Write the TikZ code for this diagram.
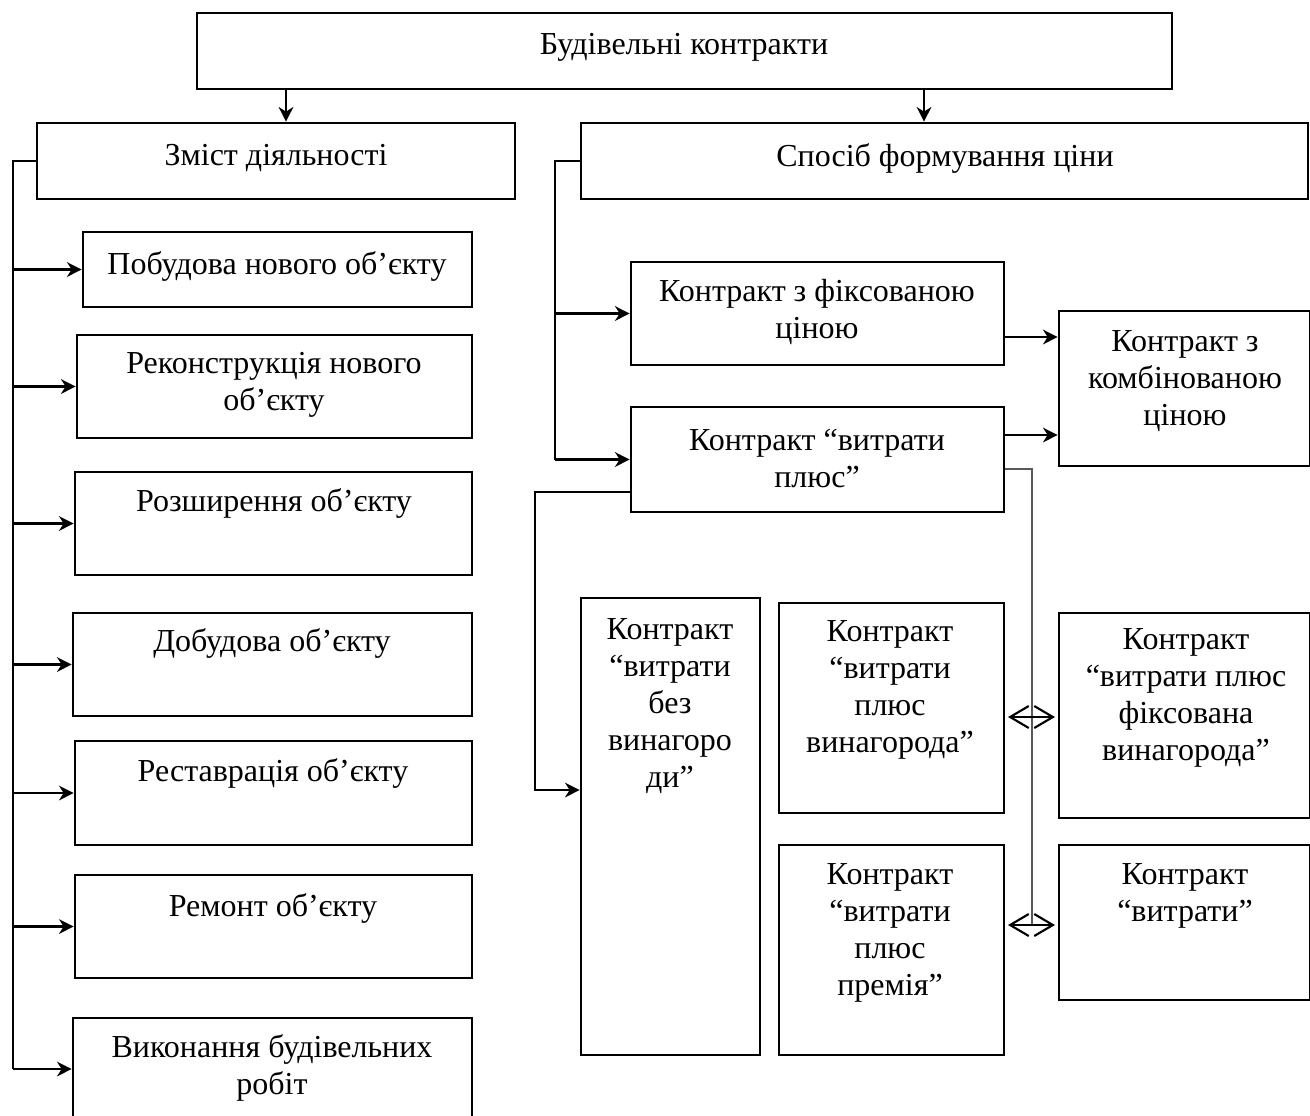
\documentclass[tikz,border=0pt]{standalone}
\usepackage{fontspec}
\setmainfont{Liberation Serif}
\usetikzlibrary{arrows.meta,fit}
\begin{document}
\begin{tikzpicture}[x=0.75pt,y=-0.75pt,
  box/.style={draw, line width=2pt, inner sep=0pt, fit={#1}},
  txt/.style={align=center, inner sep=0pt, font=\fontsize{24}{27.75}\selectfont},
  ln/.style={line width=1.6pt},
  arr/.style={line width=1.6pt, -{Stealth[length=11pt,width=11pt,inset=3.5pt]}},
  thinln/.style={line width=0.9pt, draw=black!65},
  dbl/.style={line width=1.6pt, {Straight Barb[length=14pt,width=16.5pt]}-{Straight Barb[length=14pt,width=16.5pt]}, shorten <=2pt, shorten >=2pt}
]
\useasboundingbox (0,0) rectangle (1310,1115);

% header
\node[box={(197,13)(1172,89)}] (top) {};
\node[txt] (topt) at (684,47) {Будівельні контракти};

% two classification branches
\node[box={(37,123)(515,199)}] (zm) {};
\node[txt] (zmt) at (276,158) {Зміст діяльності};
\node[box={(581,123)(1308,199)}] (sp) {};
\node[txt] (spt) at (945,158) {Спосіб формування ціни};

\draw[arr] (286,0 |- top.south) -- (286,0 |- zm.north);
\draw[arr] (924,0 |- top.south) -- (924,0 |- sp.north);

% left column: kinds of activity
\node[box={(83,232)(472,307)}] (b1) {};
\node[txt] (b1t) at (277,266) {Побудова нового об’єкту};
\node[box={(77,335)(472,438)}] (b2) {};
\node[txt] (b2t) at (274,385) {Реконструкція нового\\об’єкту};
\node[box={(75,472)(472,575)}] (b3) {};
\node[txt] (b3t) at (274,503) {Розширення об’єкту};
\node[box={(73,613)(472,716)}] (b4) {};
\node[txt] (b4t) at (272,643) {Добудова об’єкту};
\node[box={(75,741)(472,845)}] (b5) {};
\node[txt] (b5t) at (273,773) {Реставрація об’єкту};
\node[box={(75,875)(472,978)}] (b6) {};
\node[txt] (b6t) at (273,908) {Ремонт об’єкту};
\node[box={(73,1018)(472,1120)}] (b7) {};
\node[txt] (b7t) at (272,1068) {Виконання будівельних\\робіт};

\coordinate (lt) at (13,0);
\draw[ln] (zm.west) -| (lt |- b7.west);
\foreach \b in {b1,b2,b3,b4,b5,b6,b7}
  \draw[arr] (lt |- \b.west) -- (\b.west);

% right column: price formation
\node[box={(631,262)(1004,365)}] (c1) {};
\node[txt] (c1t) at (817,312) {Контракт з фіксованою\\ціною};
\node[box={(631,407)(1004,512)}] (c2) {};
\node[txt] (c2t) at (817,458) {Контракт “витрати\\плюс”};
\node[box={(1059,311)(1310,466)}] (cb) {};
\node[txt] (cbt) at (1185,381) {Контракт з\\комбінованою\\ціною};

\coordinate (rt) at (555,0);
\draw[ln] (sp.west) -| (rt |- c2.west);
\draw[arr] (rt |- c1.west) -- (c1.west);
\draw[arr] (rt |- c2.west) -- (c2.west);
\draw[arr] (c1.east |- 0,337) -- (cb.west |- 0,337);
\draw[arr] (c2.east |- 0,435) -- (cb.west |- 0,435);

% cost-plus variants
\node[box={(581,598)(760,1055)}] (d1) {};
\node[txt] (d1t) at (670,706) {Контракт\\“витрати\\без\\винагоро\\ди”};
\node[box={(779,603)(1004,813)}] (d2) {};
\node[txt] (d2t) at (890,690) {Контракт\\“витрати\\плюс\\винагорода”};
\node[box={(779,845)(1004,1055)}] (d3) {};
\node[txt] (d3t) at (890,933) {Контракт\\“витрати\\плюс\\премія”};
\node[box={(1059,613)(1310,818)}] (d4) {};
\node[txt] (d4t) at (1186,698) {Контракт\\“витрати плюс\\фіксована\\винагорода”};
\node[box={(1059,845)(1310,1000)}] (d5) {};
\node[txt] (d5t) at (1185,896) {Контракт\\“витрати”};

\draw[arr] (c2.west |- 0,492) -- (535,492) |- (d1.west |- 0,790);
\draw[thinln] (c2.east |- 0,469) -| (1032,925);
\draw[dbl] (d2.east |- 0,717) -- (d4.west |- 0,717);
\draw[dbl] (d3.east |- 0,925) -- (d5.west |- 0,925);
\end{tikzpicture}
\end{document}
